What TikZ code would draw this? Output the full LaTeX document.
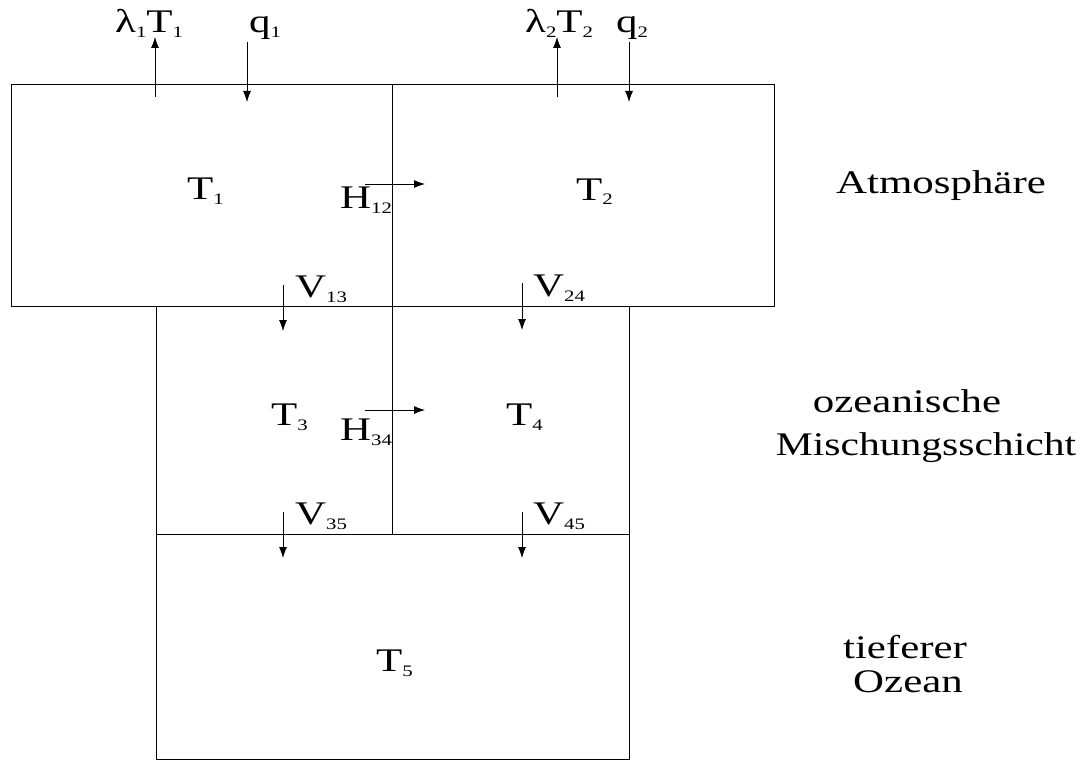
\documentclass[tikz,border=0pt]{standalone}
\usepackage{fontspec}
\setmainfont{Liberation Serif}
\usetikzlibrary{arrows.meta}
\newcommand{\lsub}[1]{\raisebox{-5pt}{\fontsize{16}{16}\selectfont #1}}
\newcommand{\wide}[1]{\scalebox{1.3}[1]{#1}}
\begin{document}
\begin{tikzpicture}[x=1pt,y=-1pt,
  boxline/.style={line width=1pt},
  flux/.style={line width=0.8pt,-{Latex[length=11pt,width=8pt]}},
  lbl/.style={inner sep=0pt,font=\fontsize{33}{38}\selectfont}]
\useasboundingbox (0,0) rectangle (1080,760);
% boxes
\draw[boxline] (11,85) rectangle (774,306);
\draw[boxline] (392,85) -- (392,306);
\draw[boxline] (156,306) rectangle (629,534);
\draw[boxline] (392,306) -- (392,534);
\draw[boxline] (156,534) rectangle (629,759);
% top fluxes
\coordinate (l1a) at (155,97); \coordinate (l1b) at (155,37);
\coordinate (q1a) at (247,42); \coordinate (q1b) at (247,102);
\coordinate (l2a) at (557,97); \coordinate (l2b) at (557,37);
\coordinate (q2a) at (629,42); \coordinate (q2b) at (629,102);
\draw[flux] (l1a) -- (l1b);
\draw[flux] (q1a) -- (q1b);
\draw[flux] (l2a) -- (l2b);
\draw[flux] (q2a) -- (q2b);
% horizontal fluxes
\coordinate (h12a) at (365,184); \coordinate (h12b) at (425,184);
\coordinate (h34a) at (365,410); \coordinate (h34b) at (425,410);
\draw[flux] (h12a) -- (h12b);
\draw[flux] (h34a) -- (h34b);
% vertical fluxes
\coordinate (v13a) at (283,285); \coordinate (v13b) at (283,331);
\coordinate (v24a) at (522,283); \coordinate (v24b) at (522,330);
\coordinate (v35a) at (283,512); \coordinate (v35b) at (283,558);
\coordinate (v45a) at (522,512); \coordinate (v45b) at (522,558);
\draw[flux] (v13a) -- (v13b);
\draw[flux] (v24a) -- (v24b);
\draw[flux] (v35a) -- (v35b);
\draw[flux] (v45a) -- (v45b);
% labels
\node[lbl,anchor=base west] (tl1) at (115,33) {\wide{λ\lsub{1}T\lsub{1}}};
\node[lbl,anchor=base west] (tq1) at (249,33) {\wide{q\lsub{1}}};
\node[lbl,anchor=base west] (tl2) at (525,33) {\wide{λ\lsub{2}T\lsub{2}}};
\node[lbl,anchor=base west] (tq2) at (616,33) {\wide{q\lsub{2}}};
\node[lbl,anchor=base west] (t1) at (187,199) {\wide{T\lsub{1}}};
\node[lbl,anchor=base west] (t2) at (576,200) {\wide{T\lsub{2}}};
\node[lbl,anchor=base west] (t3) at (271,425) {\wide{T\lsub{3}}};
\node[lbl,anchor=base west] (t4) at (506,425) {\wide{T\lsub{4}}};
\node[lbl,anchor=base west] (t5) at (376,671) {\wide{T\lsub{5}}};
\node[lbl,anchor=base west] (h12) at (340,208) {\wide{H\lsub{12}}};
\node[lbl,anchor=base west] (h34) at (340,440) {\wide{H\lsub{34}}};
\node[lbl,anchor=base west] (v13) at (295,297) {\wide{V\lsub{13}}};
\node[lbl,anchor=base west] (v24) at (533,296) {\wide{V\lsub{24}}};
\node[lbl,anchor=base west] (v35) at (295,524) {\wide{V\lsub{35}}};
\node[lbl,anchor=base west] (v45) at (533,524) {\wide{V\lsub{45}}};
\node[lbl,anchor=base] (atm) at (941,193) {\wide{Atmosphäre}};
\node[lbl,anchor=base] (oz1) at (907,412) {\wide{ozeanische}};
\node[lbl,anchor=base] (oz2) at (926,455) {\scalebox{1.26}[1]{Mischungsschicht}};
\node[lbl,anchor=base] (tf1) at (905,658) {\wide{tieferer}};
\node[lbl,anchor=base] (tf2) at (908,692) {\wide{Ozean}};
\end{tikzpicture}
\end{document}
